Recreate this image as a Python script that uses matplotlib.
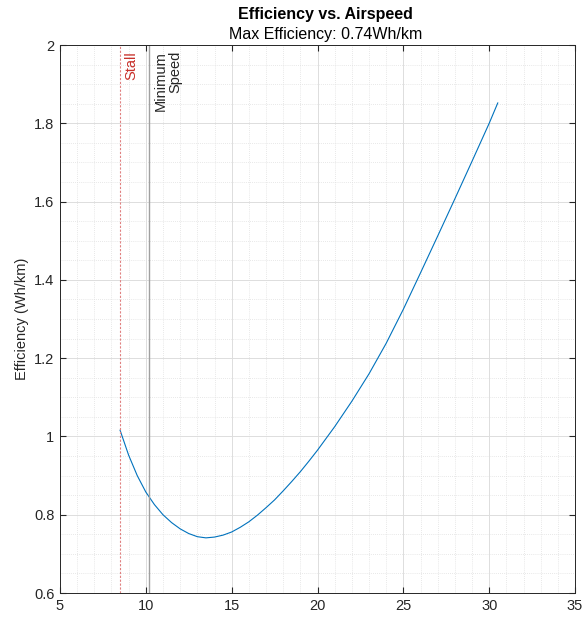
import matplotlib
matplotlib.use("Agg")
import matplotlib.pyplot as plt
from matplotlib.ticker import MultipleLocator, FuncFormatter

plt.rcParams["font.family"] = ["Liberation Sans", "DejaVu Sans"]

# values
airspeed = [8.5, 9.0, 9.5, 10.0, 10.5, 11.0, 11.5, 12.0, 12.5, 13.0, 13.5,
            14.0, 14.5, 15.0, 15.5, 16.0, 16.5, 17.0, 17.5, 18.0, 18.5,
            19.0, 19.5, 20.0, 21.0, 22.0, 23.0, 24.0, 25.0, 26.0, 27.0,
            28.0, 29.0, 30.0, 30.5]
efficiency = [1.016, 0.952, 0.900, 0.858, 0.826, 0.800, 0.780, 0.764, 0.752,
              0.744, 0.741, 0.743, 0.748, 0.756, 0.768, 0.782, 0.799, 0.818,
              0.838, 0.861, 0.885, 0.910, 0.937, 0.965, 1.025, 1.090, 1.160,
              1.238, 1.325, 1.418, 1.512, 1.607, 1.703, 1.800, 1.852]
stall_speed = 8.5
min_speed = 10.2
max_eff = 0.74

fig = plt.figure(figsize=(5.87, 6.21), dpi=100)
ax = fig.add_axes([0.1022, 0.045, 0.8774, 0.8825])

ax.plot(airspeed, efficiency, color="#0072BD", lw=0.8)
ax.axvline(stall_speed, color="#e08080", lw=0.8, ls=(0, (2, 1.5)))
ax.axvline(min_speed, color="#a0a0a0", lw=1.0)

ax.text(stall_speed + 0.25, 1.985, "Stall", rotation=90, ha="left", va="top",
        color="#c8302a", fontsize=10.5)
ax.text(min_speed + 0.25, 1.985, "Minimum\nSpeed", rotation=90, ha="left",
        va="top", multialignment="right", color="#262626", fontsize=10.5,
        linespacing=1.1)

ax.set_xlim(5, 35)
ax.set_ylim(0.6, 2)
ax.xaxis.set_major_locator(MultipleLocator(5))
ax.xaxis.set_minor_locator(MultipleLocator(1))
ax.yaxis.set_major_locator(MultipleLocator(0.2))
ax.yaxis.set_minor_locator(MultipleLocator(0.05))
ax.yaxis.set_major_formatter(FuncFormatter(lambda v, p: f"{v:g}"))

ax.grid(which="major", color="#dddddd", lw=0.7)
ax.grid(which="minor", color="#e0e0e0", lw=0.6, ls=(0, (1, 1.5)))
ax.set_axisbelow(True)

ax.tick_params(which="both", direction="in", top=True, right=True,
               labelsize=10.5, colors="#262626")
ax.tick_params(which="minor", length=0)
ax.tick_params(which="major", length=4, pad=4)
for s in ax.spines.values():
    s.set_color("#262626")
    s.set_linewidth(0.7)

ax.set_ylabel("Efficiency (Wh/km)", fontsize=10.5, color="#262626")

fig.text(0.5546, 0.976, "Efficiency vs. Airspeed", ha="center", va="center",
         fontsize=11.5, fontweight="bold")
fig.text(0.5546, 0.944, f"Max Efficiency: {max_eff:.2f}Wh/km", ha="center",
         va="center", fontsize=11.5)

fig.savefig("out.png", dpi=100)
